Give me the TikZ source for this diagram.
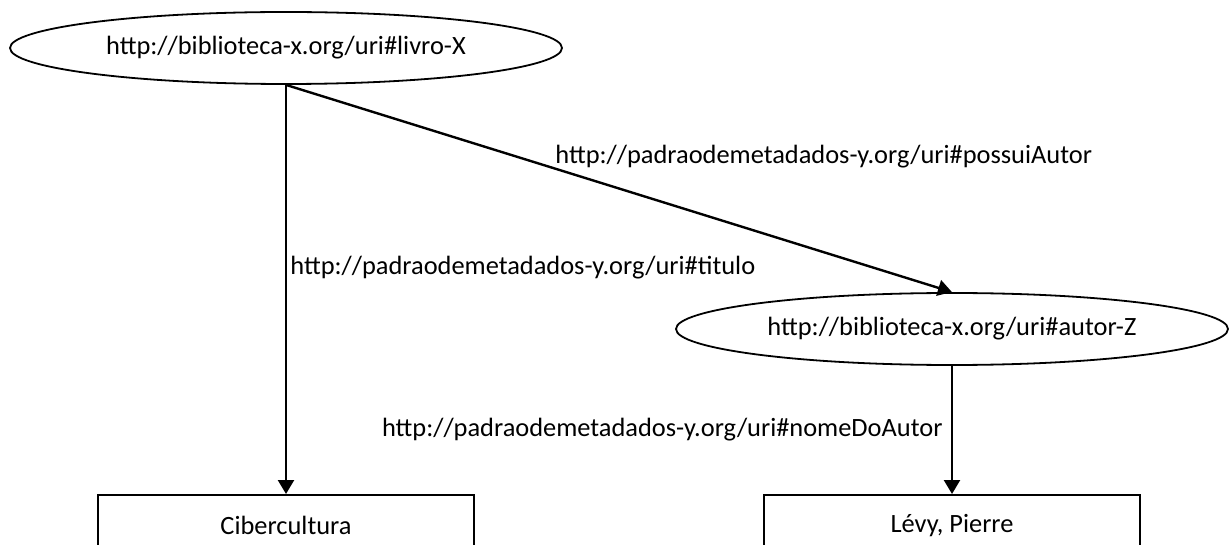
\documentclass[tikz,border=0pt]{standalone}
\usepackage{fontspec}
\setmainfont{Carlito}
\usetikzlibrary{shapes.geometric,arrows.meta}

\begin{document}
\begin{tikzpicture}[x=0.5pt,y=-0.5pt,
  font=\fontsize{13.2}{15.8}\selectfont,
  recurso/.style={draw,ellipse,line width=0.9pt,inner sep=0pt,
    minimum width=276pt,minimum height=36pt},
  literal/.style={draw,rectangle,line width=0.9pt,inner sep=0pt,
    minimum width=188pt,minimum height=31pt},
  seta/.style={line width=1.2pt,-{Triangle[length=7pt,width=8pt]}},
  rotulo/.style={inner sep=0pt}]
  \useasboundingbox (0,0) rectangle (1232,545);
  % recursos
  \node [recurso] (livro) at (286,48) {http://biblioteca-x.org/uri\#livro-X};
  \node [recurso] (autor) at (952,329) {http://biblioteca-x.org/uri\#autor-Z};
  % literais
  \node [literal,anchor=north] (cib) at (286,494) {Cibercultura};
  \node [literal,anchor=north] (levy) at (952,494) {Lévy, Pierre};
  % propriedades
  \draw [seta] (livro.south) -- (cib.north);
  \draw [seta] (livro.south) -- (autor.north);
  \draw [seta] (autor.south) -- (levy.north);
  \node [rotulo,anchor=west] (ptitulo) at (290,268) {http://padraodemetadados-y.org/uri\#titulo};
  \node [rotulo,anchor=west] (pautor) at (555,157) {http://padraodemetadados-y.org/uri\#possuiAutor};
  \node [rotulo,anchor=east] (pnome) at (943,430) {http://padraodemetadados-y.org/uri\#nomeDoAutor};
\end{tikzpicture}
\end{document}
